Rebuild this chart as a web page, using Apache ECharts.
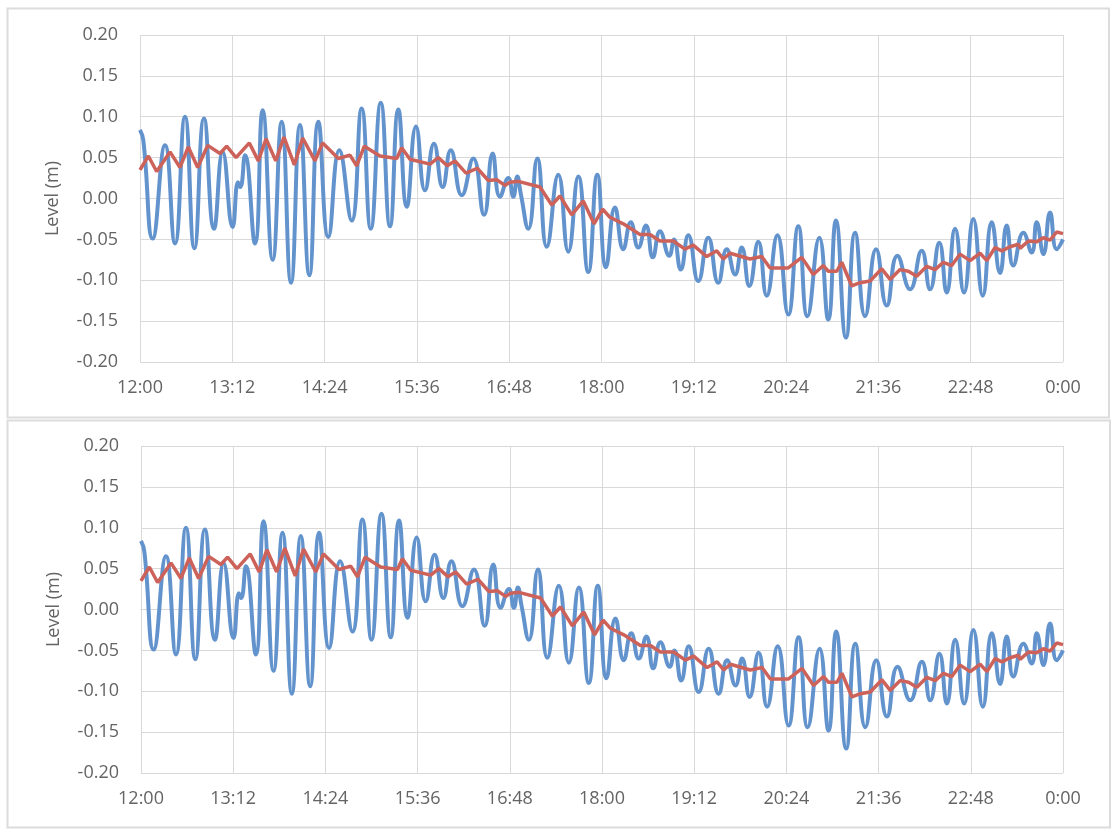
<!DOCTYPE html>
<html>
<head>
<meta charset="utf-8">
<script src="https://cdn.jsdelivr.net/npm/echarts@6.0.0/dist/echarts.min.js"></script>
<style>
html,body{margin:0;padding:0;background:#fff;}
#chart{width:1113px;height:832px;}
</style>
</head>
<body>
<div id="chart"></div>
<script>
// Tick labels of the time axis (every 72 minutes from 12:00)
const tickLabels = ["12:00","13:12","14:24","15:36","16:48","18:00","19:12","20:24","21:36","22:48","0:00"];

// Blue series (measured level): minutes after 12:00 and level (m)
const blueMinutes = [0,2.6,9.9,19.5,27.3,35.1,42.4,49.9,57.7,64.5,72.3,76.5,78.3,81.9,89.7,95.7,103.5,110.5,117.8,124.8,132.1,139.1,146.9,155.5,165.1,172.9,180.0,187.8,195.0,201.5,208.1,215.3,222.3,229.3,236.1,242.4,251.0,260.0,268.4,275.1,280.8,287.3,291.2,294.3,297.0,302.9,309.9,317.3,326.3,334.1,341.9,349.7,356.7,363.5,370.5,377.0,382.8,388.7,394.7,400.0,405.6,412.9,416.6,421.8,427.7,435.5,443.3,451.1,457.7,464.2,469.4,475.3,482.3,488.9,497.2,505.7,513.5,520.6,529.9,536.9,542.9,550.7,557.8,565.6,574.2,582.5,590.8,600.7,609.8,616.3,623.5,629.3,635.8,642.8,650.0,657.4,664.4,670.9,676.1,681.2,689.1,695.6,699.5,704.7,709.9,715.1,720];
const blueLevel = [0.084,0.071,-0.049,0.065,-0.055,0.100,-0.061,0.098,-0.037,0.057,-0.035,0.020,0.014,0.053,-0.055,0.108,-0.075,0.094,-0.103,0.090,-0.094,0.094,-0.047,0.059,-0.027,0.110,-0.037,0.117,-0.034,0.109,-0.010,0.088,0.010,0.067,0.014,0.059,0.004,0.049,-0.020,0.055,0.002,0.025,0.002,0.027,0.006,-0.037,0.049,-0.059,0.029,-0.065,0.027,-0.090,0.029,-0.084,-0.011,-0.062,-0.029,-0.060,-0.033,-0.072,-0.040,-0.070,-0.050,-0.087,-0.045,-0.101,-0.048,-0.103,-0.062,-0.093,-0.060,-0.107,-0.053,-0.119,-0.045,-0.142,-0.034,-0.144,-0.048,-0.148,-0.027,-0.170,-0.042,-0.144,-0.062,-0.131,-0.070,-0.111,-0.064,-0.111,-0.054,-0.115,-0.037,-0.115,-0.025,-0.119,-0.029,-0.091,-0.033,-0.082,-0.042,-0.066,-0.029,-0.068,-0.017,-0.062,-0.050];

// Red series (averaged level): minutes after 12:00 and level (m)
const redMinutes = [0,6.5,13.0,23.4,31.2,37.7,45.0,52.8,62.4,67.6,74.9,85.3,92.3,98.3,105.9,112.3,120.4,126.9,136.5,142.5,154.7,163.8,169.0,175.0,187.2,200.3,204.1,210.6,226.2,232.7,239.7,245.7,254.3,263.1,271.7,278.3,284.7,288.6,295.1,312.0,321.2,327.6,336.8,345.8,354.2,360.9,366.6,377.0,390.0,397.8,405.6,416.0,425.1,431.6,442.1,449.9,455.0,460.3,475.8,485.0,491.5,505.7,516.2,525.2,533.0,536.9,543.5,547.4,555.2,561.7,569.5,578.6,585.1,592.9,599.4,605.9,613.7,620.2,626.7,633.2,639.7,647.5,655.3,660.6,667.0,672.3,678.7,685.2,686.5,693.0,699.5,704.7,709.9,715.1,720];
const redLevel = [0.035,0.052,0.033,0.057,0.038,0.063,0.038,0.065,0.055,0.064,0.050,0.068,0.046,0.073,0.046,0.075,0.041,0.074,0.046,0.068,0.049,0.053,0.040,0.064,0.052,0.049,0.062,0.048,0.042,0.050,0.040,0.046,0.031,0.037,0.022,0.023,0.016,0.020,0.021,0.014,-0.008,0.003,-0.020,-0.003,-0.031,-0.013,-0.023,-0.031,-0.044,-0.044,-0.052,-0.052,-0.062,-0.057,-0.071,-0.064,-0.074,-0.067,-0.074,-0.071,-0.085,-0.085,-0.072,-0.093,-0.082,-0.089,-0.089,-0.078,-0.107,-0.103,-0.101,-0.086,-0.099,-0.087,-0.089,-0.095,-0.083,-0.087,-0.078,-0.082,-0.068,-0.076,-0.067,-0.076,-0.060,-0.064,-0.059,-0.056,-0.061,-0.052,-0.053,-0.048,-0.051,-0.041,-0.043];

const blueData = blueMinutes.map((m, i) => [m, blueLevel[i]]);
const redData = redMinutes.map((m, i) => [m, redLevel[i]]);

const FONT = 'Open Sans';
const TXT = '#646464';
const GRIDC = '#d9d9d9';

function xAxisCfg(gi) {
  return {
    gridIndex: gi, type: 'value', min: 0, max: 720, interval: 72,
    axisLine: { show: true, lineStyle: { color: GRIDC, width: 1 } },
    axisTick: { show: false },
    splitLine: { show: true, lineStyle: { color: GRIDC, width: 1 } },
    axisLabel: {
      color: TXT, fontFamily: FONT, fontSize: 18, margin: 17,
      formatter: v => tickLabels[Math.round(v / 72)]
    }
  };
}
function yAxisCfg(gi) {
  return {
    gridIndex: gi, type: 'value', min: -0.2, max: 0.2, interval: 0.05,
    name: 'Level (m)', nameLocation: 'middle', nameGap: 78,
    nameTextStyle: { color: TXT, fontFamily: FONT, fontSize: 18 },
    axisLine: { show: false }, axisTick: { show: false },
    splitLine: { show: true, lineStyle: { color: GRIDC, width: 1 } },
    axisLabel: {
      color: TXT, fontFamily: FONT, fontSize: 18, margin: 22,
      formatter: v => (Math.abs(v) < 1e-9 ? 0 : v).toFixed(2)
    }
  };
}
function blueSeries(gi) {
  return { type: 'line', xAxisIndex: gi, yAxisIndex: gi, data: blueData, showSymbol: false,
    smooth: 0.5, lineStyle: { color: '#6393cd', width: 4 }, z: 2 };
}
function redSeries(gi) {
  return { type: 'line', xAxisIndex: gi, yAxisIndex: gi, data: redData, showSymbol: false,
    smooth: false, lineStyle: { color: '#cd625b', width: 3.5 }, z: 3 };
}

const chart = echarts.init(document.getElementById('chart'), null, { renderer: 'canvas' });
chart.setOption({
  animation: false,
  backgroundColor: '#ffffff',
  graphic: [
    { type: 'rect', shape: { x: 7.5, y: 8.5, width: 1101.5, height: 409 },
      style: { fill: 'none', stroke: '#dcdcdc', lineWidth: 2 }, silent: true },
    { type: 'rect', shape: { x: 7.5, y: 420.5, width: 1102.5, height: 407 },
      style: { fill: 'none', stroke: '#dcdcdc', lineWidth: 2 }, silent: true }
  ],
  grid: [
    { left: 140, top: 35, width: 923, height: 327 },
    { left: 141, top: 446, width: 922, height: 327 }
  ],
  xAxis: [xAxisCfg(0), xAxisCfg(1)],
  yAxis: [yAxisCfg(0), yAxisCfg(1)],
  series: [blueSeries(0), redSeries(0), blueSeries(1), redSeries(1)]
});
</script>
</body>
</html>
